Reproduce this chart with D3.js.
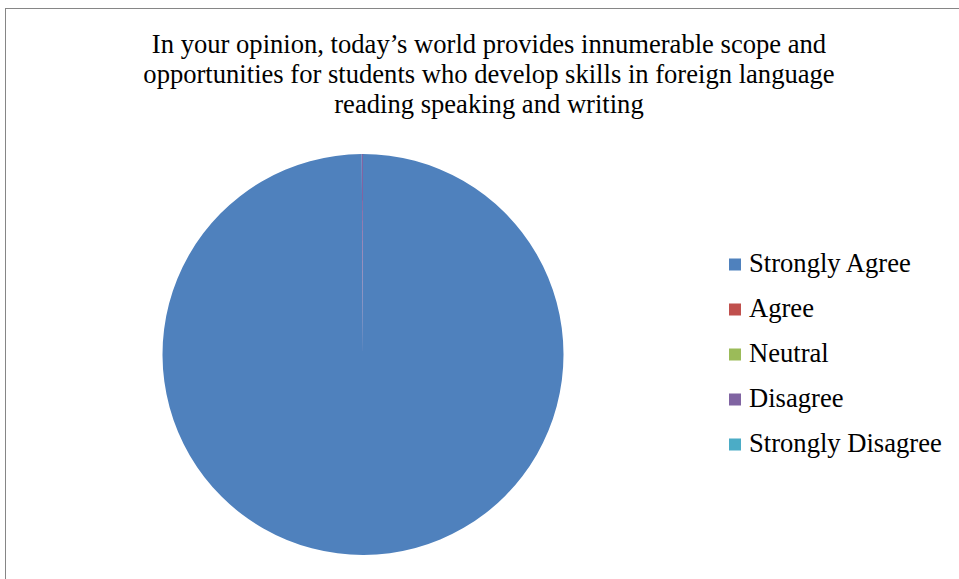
<!DOCTYPE html>
<html>
<head>
<meta charset="utf-8">
<script src="https://cdn.jsdelivr.net/npm/d3@7"></script>
<style>
  html, body { margin: 0; padding: 0; background: #fff; }
  svg { display: block; }
</style>
</head>
<body>
<svg id="chart" width="959" height="579"></svg>
<script>
// Survey responses (percent of students)
const categories = ["Strongly Agree", "Agree", "Neutral", "Disagree", "Strongly Disagree"];
const values = [99.9, 0, 0, 0.1, 0];
const colors = ["#4F81BD", "#C0504D", "#9BBB59", "#8064A2", "#4BACC6"];
const titleLines = [
  "In your opinion, today\u2019s world provides innumerable scope and",
  "opportunities for students who develop skills in foreign language",
  "reading speaking and writing"
];

const svg = d3.select("#chart");
const W = 959, H = 579;
const font = "'Liberation Serif', 'Times New Roman', serif";

// Chart frame
svg.append("rect")
  .attr("x", 5.5).attr("y", 8.5)
  .attr("width", W + 10).attr("height", H + 10)
  .attr("fill", "#fff")
  .attr("stroke", "#868686").attr("stroke-width", 1);

// Title
svg.append("g").selectAll("text")
  .data(titleLines)
  .join("text")
  .attr("x", 489)
  .attr("y", (d, i) => 53 + i * 30)
  .attr("text-anchor", "middle")
  .attr("font-family", font)
  .attr("font-size", 26.6)
  .attr("fill", "#000")
  .text(d => d);

// Pie
const data = categories.map((c, i) => ({ name: c, value: values[i], color: colors[i] }));
const pie = d3.pie().value(d => d.value).sort(null);
const r = 200.5;
const arc = d3.arc().innerRadius(0).outerRadius(r);

svg.append("g")
  .attr("transform", "translate(363,354.5)")
  .selectAll("path")
  .data(pie(data))
  .join("path")
  .attr("d", arc)
  .attr("fill", d => d.data.color);

// Legend
const legend = svg.append("g")
  .selectAll("g")
  .data(data)
  .join("g")
  .attr("transform", (d, i) => `translate(729,${264.5 + i * 45})`);

legend.append("rect")
  .attr("x", 0).attr("y", -6)
  .attr("width", 12).attr("height", 12)
  .attr("fill", d => d.color);

legend.append("text")
  .attr("x", 20)
  .attr("y", 7)
  .attr("font-family", font)
  .attr("font-size", 26.6)
  .attr("fill", "#000")
  .text(d => d.name);
</script>
</body>
</html>
